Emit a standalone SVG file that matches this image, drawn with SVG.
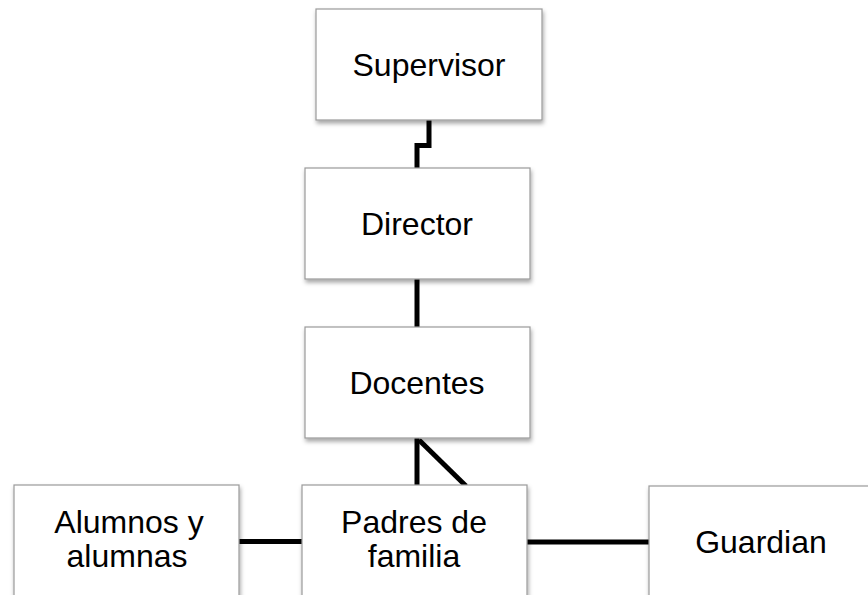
<svg xmlns="http://www.w3.org/2000/svg" width="868" height="595" viewBox="0 0 868 595">
<defs>
<filter id="sh" x="-10%" y="-10%" width="120%" height="125%">
<feDropShadow dx="1" dy="3" stdDeviation="2" flood-color="#000" flood-opacity="0.35"/>
</filter>
<style>
.box{fill:#fff;stroke:#9a9a9a;stroke-width:1.2;filter:url(#sh);}
.lbl{font-family:"Liberation Sans",Arial,sans-serif;font-size:32px;fill:#000;text-anchor:middle;}
.conn{fill:none;stroke:#000;stroke-width:5;stroke-linejoin:miter;}
</style>
</defs>
<rect width="868" height="595" fill="#fff"/>
<g id="connectors">
<polyline class="conn" points="429,120 429,145.5 417,145.5 417,168"/>
<line class="conn" x1="417" y1="279" x2="417" y2="327"/>
<line class="conn" x1="417" y1="438" x2="417" y2="486"/>
<line class="conn" x1="419" y1="440" x2="466" y2="486"/>
<line class="conn" x1="239" y1="541.5" x2="302" y2="541.5"/>
<line class="conn" x1="527" y1="542" x2="649" y2="542"/>
</g>
<g id="supervisor">
<rect class="box" x="316" y="9" width="226" height="111"/>
<text class="lbl" x="429" y="76">Supervisor</text>
</g>
<g id="director">
<rect class="box" x="305" y="168" width="225" height="111"/>
<text class="lbl" x="417" y="235">Director</text>
</g>
<g id="docentes">
<rect class="box" x="305" y="327" width="225" height="111"/>
<text class="lbl" x="417" y="394">Docentes</text>
</g>
<g id="alumnos">
<rect class="box" x="14" y="485" width="225" height="116"/>
<text class="lbl" x="129" y="533">Alumnos y</text>
<text class="lbl" x="127" y="567">alumnas</text>
</g>
<g id="padres">
<rect class="box" x="302" y="485" width="225" height="116"/>
<text class="lbl" x="414" y="533">Padres de</text>
<text class="lbl" x="414" y="567">familia</text>
</g>
<g id="guardian">
<rect class="box" x="649" y="486" width="225" height="116"/>
<text class="lbl" x="761" y="553">Guardian</text>
</g>
</svg>
